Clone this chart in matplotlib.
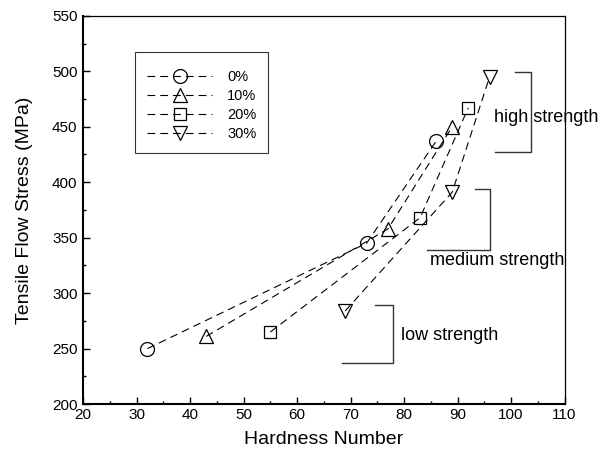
import matplotlib
matplotlib.use("Agg")
import matplotlib.pyplot as plt
from matplotlib.ticker import MultipleLocator

plt.rcParams['font.family'] = ['Liberation Sans', 'DejaVu Sans']

# data
labels = ["0%", "10%", "20%", "30%"]
hardness_0 = [32, 73, 86]
stress_0 = [250, 345, 437]
hardness_10 = [43, 77, 89]
stress_10 = [261, 358, 450]
hardness_20 = [55, 83, 92]
stress_20 = [265, 368, 467]
hardness_30 = [69, 89, 96]
stress_30 = [284, 391, 495]

series = [
    (hardness_0, stress_0, "o", 10),
    (hardness_10, stress_10, "^", 10.5),
    (hardness_20, stress_20, "s", 8),
    (hardness_30, stress_30, "v", 10.5),
]

fig = plt.figure(figsize=(6.07, 4.51), dpi=100)
ax = fig.add_axes([0.137, 0.104, 0.793, 0.861])

handles = []
for (hx, hy, mk, ms), lab in zip(series, labels):
    ax.plot(hx, hy, color="black", lw=0.8, dashes=(7, 4.5))
    ax.plot(hx, hy, linestyle="none", marker=mk, ms=ms,
            mfc="none", mec="black", mew=0.9)
    h, = ax.plot([], [], color="black", lw=0.8, dashes=(7, 4.5),
                 marker=mk, ms=ms, mfc="none", mec="black", mew=0.9)
    handles.append(h)

leg = ax.legend(handles, labels, loc="upper left",
                bbox_to_anchor=(0.108, 0.907), fontsize=10.5,
                handlelength=4.5, labelspacing=0.35, borderpad=0.8,
                handletextpad=1.0, fancybox=False, frameon=True,
                borderaxespad=0, title=" ", title_fontsize=1)
leg.get_frame().set_edgecolor("black")
leg.get_frame().set_linewidth(0.8)

# strength group brackets
bc = "#333333"
ax.plot([100.7, 103.7, 103.7, 97.0], [499.5, 499.5, 427.3, 427.3], color=bc, lw=1)
ax.plot([93.2, 96.1, 96.1, 84.2], [394.2, 394.2, 339.2, 339.2], color=bc, lw=1)
ax.plot([74.6, 77.9, 77.9, 68.4], [289.0, 289.0, 237.3, 237.3], color=bc, lw=1)
ax.text(96.8, 458, "high strength", fontsize=13, va="center", ha="left")
ax.text(84.9, 329, "medium strength", fontsize=13, va="center", ha="left")
ax.text(79.4, 262, "low strength", fontsize=13, va="center", ha="left")

ax.set_xlim(20, 110)
ax.set_ylim(200, 550)
ax.xaxis.set_major_locator(MultipleLocator(10))
ax.xaxis.set_minor_locator(MultipleLocator(5))
ax.yaxis.set_major_locator(MultipleLocator(50))
ax.yaxis.set_minor_locator(MultipleLocator(25))
ax.tick_params(which="both", direction="in", top=False, right=False,
               labelsize=11, color="black")
ax.tick_params(which="major", length=5, width=1)
ax.tick_params(which="minor", length=2.5, width=1)
ax.tick_params(axis="x", pad=3)
ax.tick_params(axis="y", pad=4)

for side in ["left", "bottom"]:
    ax.spines[side].set_linewidth(1.5)
for side in ["top", "right"]:
    ax.spines[side].set_linewidth(0.9)

ax.set_xlabel("Hardness Number", fontsize=14, labelpad=6)
ax.set_ylabel("Tensile Flow Stress (MPa)", fontsize=14, labelpad=14)

fig.savefig("out.png", dpi=100)
